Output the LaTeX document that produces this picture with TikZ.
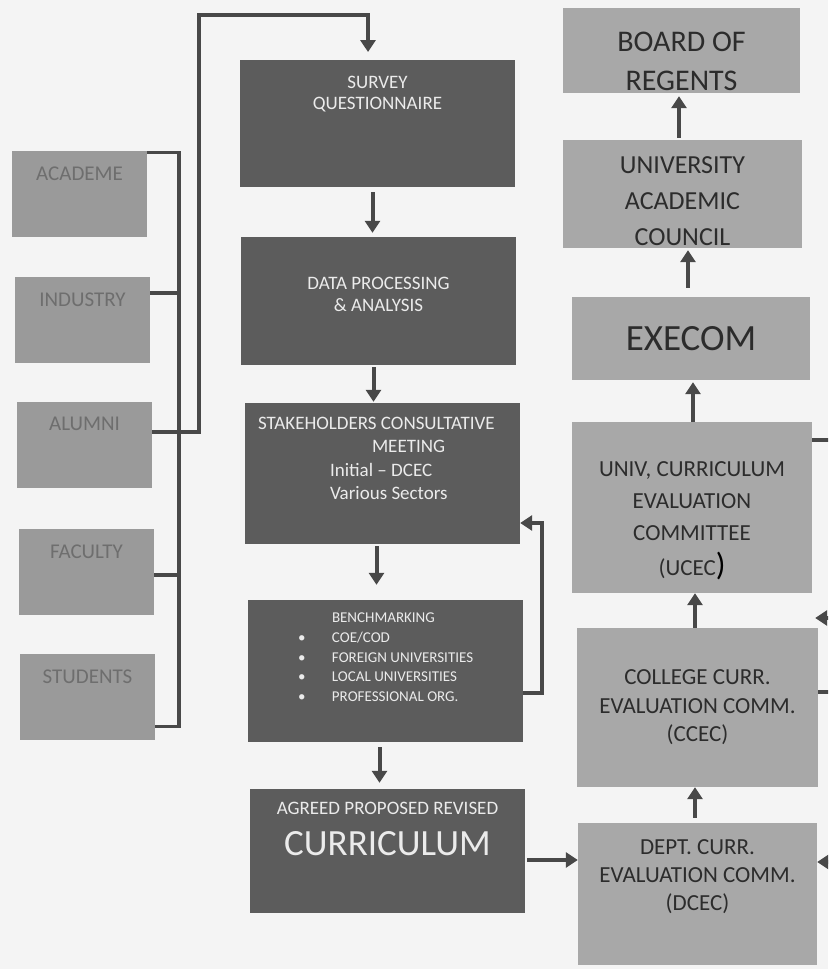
\documentclass[tikz,border=0pt]{standalone}
\usepackage{fontspec}
\setmainfont{Carlito}
\usepackage{tikz}
\usetikzlibrary{arrows.meta, positioning, calc}
\usepackage{xcolor}

\definecolor{paper}{HTML}{F4F4F4}
\definecolor{sidegray}{HTML}{9A9A9A}
\definecolor{sidetext}{HTML}{6E6E6E}
\definecolor{darkbox}{HTML}{5C5C5C}
\definecolor{lightbox}{HTML}{A8A8A8}
\definecolor{boxtext}{HTML}{2C2C2C}
\definecolor{linegray}{HTML}{484848}

\begin{document}
\begin{tikzpicture}[
    x=1pt, y=-1pt,
    % Node styles
    party/.style={rectangle, fill=sidegray, minimum width=135pt, minimum height=86pt, inner sep=0pt},
    partytxt/.style={text=sidetext, font=\fontsize{21}{25}\selectfont, inner sep=0pt},
    stage/.style={rectangle, fill=darkbox, minimum width=275pt, inner sep=0pt},
    stagetxt/.style={text=white!92!black, font=\fontsize{19}{21}\selectfont, align=center, inner sep=0pt},
    council/.style={rectangle, fill=lightbox, inner sep=0pt, text=boxtext, align=center},
    counciltxt/.style={text=boxtext, align=center, inner sep=0pt},
    link/.style={line width=3.5pt, draw=linegray},
    flow/.style={line width=4pt, draw=linegray, -{Triangle[width=15pt,length=12pt]}},
]

\useasboundingbox (0,0) rectangle (828,969);
\clip (0,0) rectangle (828,969);
\fill[paper] (0,0) rectangle (828,969);

% ============================================================================
% LEFT COLUMN: STAKEHOLDERS
% ============================================================================
\foreach \name/\lbl/\x/\y in {academe/ACADEME/79.5/193.5, industry/INDUSTRY/82.5/320,
    alumni/ALUMNI/84.5/444.5, faculty/FACULTY/86.5/571.5, students/STUDENTS/87.5/696.5} {
    \node[party] (\name) at (\x,\y) {};
    \node[partytxt, below=16pt of \name.north] (\name-t) {\lbl};
}

% Bus line joining the stakeholders
\coordinate (busend) at ([xshift=24pt, yshift=13pt]students.south east);
\draw[link] ([yshift=-2pt]academe.north east) -| (busend) -- ([yshift=13pt]students.south east);
\foreach \name/\y in {industry/293, alumni/432, faculty/575} {
    \draw[link] (\name.east |- 0,\y) -- (busend |- 0,\y);
}

% Loop up to the survey
\coordinate (loop-top) at (199,15);
\draw[flow, shorten >=8pt] (alumni.east |- 0,432) -| (loop-top) -| (368,60);

% ============================================================================
% CENTER COLUMN: PROCESS
% ============================================================================
\node[stage, minimum height=127pt] (survey) at (377.5,123.5) {};
\node[stagetxt, below=16pt of survey.north] (survey-t) {SURVEY\\QUESTIONNAIRE};

\node[stage, minimum height=128pt] (data) at (378.5,301) {};
\node[stagetxt, font=\fontsize{19}{22}\selectfont, below=40pt of data.north] (data-t) {DATA PROCESSING\\\& ANALYSIS};

\node[stage, minimum height=141pt] (stake) at (382.5,473.5) {};
\node[stagetxt, align=left, font=\fontsize{19}{23.5}\selectfont, below right=14pt and 13pt of stake.north west] (stake-t)
    {STAKEHOLDERS CONSULTATIVE\\\hspace*{114pt}MEETING\\\hspace*{72pt}Initial – DCEC\\\hspace*{72pt}Various Sectors};

\node[stage, minimum height=142pt] (bench) at (385.5,671) {};
\node[stagetxt, align=left, font=\fontsize{15}{19.7}\selectfont, below right=13pt and 50pt of bench.north west] (bench-t)
    {\hspace*{34pt}BENCHMARKING\\
     \makebox[34pt][l]{\textbullet}COE/COD\\
     \makebox[34pt][l]{\textbullet}FOREIGN UNIVERSITIES\\
     \makebox[34pt][l]{\textbullet}LOCAL UNIVERSITIES\\
     \makebox[34pt][l]{\textbullet}PROFESSIONAL ORG.};

\node[stage, minimum height=124pt] (curr) at (387.5,851) {};
\node[stagetxt, font=\fontsize{19}{41}\selectfont, below=13pt of curr.north] (curr-t)
    {AGREED PROPOSED REVISED\\{\fontsize{37}{41}\selectfont CURRICULUM}};

% Flow arrows
\draw[flow, shorten <=5pt, shorten >=4pt] ([xshift=-5pt]survey.south) -- ([xshift=-5pt]survey.south |- data.north);
\draw[flow, shorten <=2pt, shorten >=1pt] ([xshift=-5pt]data.south) -- ([xshift=-5pt]data.south |- stake.north);
\draw[flow, shorten <=2pt, shorten >=15pt] ([xshift=-6pt]stake.south) -- ([xshift=-6pt]stake.south |- bench.north);
\draw[flow, shorten <=5pt, shorten >=6pt] ([xshift=-6pt]bench.south) -- ([xshift=-6pt]bench.south |- curr.north);

% Feedback from benchmarking
\coordinate (fb-corner) at (542,523);
\draw[flow] (bench.east |- 0,693) -| (fb-corner) -- (stake.east |- fb-corner);

% ============================================================================
% RIGHT COLUMN: APPROVAL
% ============================================================================
\node[council, minimum width=237pt, minimum height=85pt] (board) at (681.5,50.5) {};
\node[counciltxt, font=\fontsize{30}{39}\selectfont, below=24pt of board.north] (board-t) {BOARD OF\\REGENTS};

\node[council, minimum width=239pt, minimum height=108pt] (uac) at (682.5,194) {};
\node[counciltxt, font=\fontsize{26}{36}\selectfont, below=17pt of uac.north] (uac-t) {UNIVERSITY\\ACADEMIC\\COUNCIL};

\node[council, minimum width=238pt, minimum height=83pt, font=\fontsize{37}{40}\selectfont] (execom) at (691,338.5) {EXECOM};

\node[council, minimum width=240pt, minimum height=171pt] (ucec) at (692,507.5) {};
\node[counciltxt, font=\fontsize{23}{32}\selectfont, below=40pt of ucec.north] (ucec-t)
    {UNIV, CURRICULUM\\EVALUATION\\COMMITTEE\\[3pt](UCEC{\fontsize{32}{32}\selectfont\color{black})}};

\node[council, minimum width=241pt, minimum height=159pt, font=\fontsize{23}{28.5}\selectfont] (ccec) at (697.5,707.5)
    {COLLEGE CURR.\\EVALUATION COMM.\\(CCEC)};

\node[council, minimum width=239pt, minimum height=142pt] (dcec) at (697.5,894) {};
\node[counciltxt, font=\fontsize{23}{28}\selectfont, below=17pt of dcec.north] (dcec-t)
    {DEPT. CURR.\\EVALUATION COMM.\\(DCEC)};

% Upward arrows
\draw[flow, shorten <=5pt] (dcec.north -| 695,0) -- (ccec.south -| 695,0);
\draw[flow] (ccec.north -| 695,0) -- (ucec.south -| 695,0);
\draw[flow, shorten >=2pt] (ucec.north -| 693,0) -- (execom.south -| 693,0);
\draw[flow, shorten <=9pt, shorten >=2pt] (execom.north -| 688,0) -- (uac.south -| 688,0);
\draw[flow, shorten <=2pt, shorten >=3pt] (uac.north -| 679,0) -- (board.south -| 679,0);

% Curriculum to department
\draw[flow, shorten <=2pt] (curr.east |- 0,860) -- (dcec.west |- 0,860);

% Loops running off the right edge
\coordinate (out-ucec) at (840,440);
\coordinate (in-ccec) at (842,618);
\coordinate (out-ccec) at (840,692);
\coordinate (in-dcec) at (842,862);
\draw[link] (ucec.east |- out-ucec) -- (out-ucec);
\draw[flow] (in-ccec) -- ([xshift=-3pt]ccec.east |- in-ccec);
\draw[link] (ccec.east |- out-ccec) -- (out-ccec);
\draw[flow] (in-dcec) -- (dcec.east |- in-dcec);

\end{tikzpicture}
\end{document}
